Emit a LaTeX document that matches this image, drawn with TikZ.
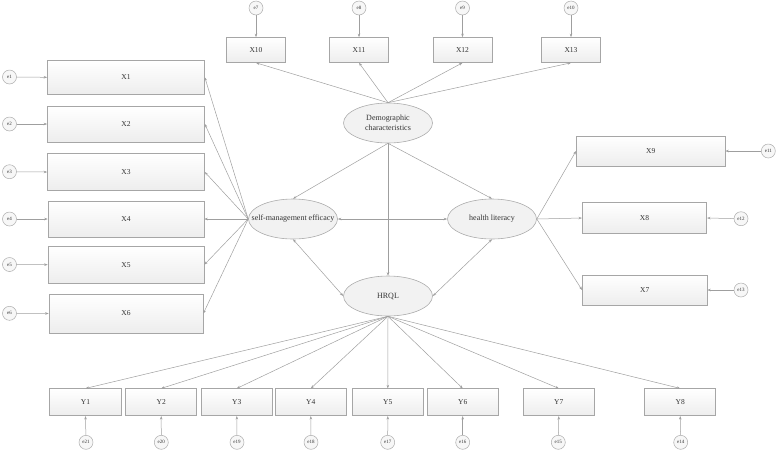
\documentclass[tikz,border=0pt]{standalone}
\usepackage{fontspec}
\setmainfont{Liberation Serif}
\usetikzlibrary{arrows.meta,shapes.geometric}
\begin{document}
\begin{tikzpicture}[x=1pt,y=-1pt,
  line/.style={draw=gray!75,line width=0.5pt,-{Stealth[length=3.5pt,width=2.5pt]}},
  dline/.style={draw=gray!75,line width=0.5pt,{Stealth[length=3.5pt,width=2.5pt]}-{Stealth[length=3.5pt,width=2.5pt]}},
  obs/.style={draw=gray!70,line width=0.6pt,top color=white,bottom color=gray!14,inner sep=0pt,font=\fontsize{7.5}{8}\selectfont,text=black!80},
  lat/.style={ellipse,draw=gray!65,line width=0.6pt,fill=gray!10,inner sep=0pt,minimum width=89pt,minimum height=40pt,font=\fontsize{8}{9}\selectfont,text=black!80},
  err/.style={circle,draw=gray!65,line width=0.5pt,fill=gray!6,inner sep=0pt,minimum size=14pt,font=\fontsize{5}{5}\selectfont,text=black!80}]
\useasboundingbox (0,0) rectangle (778,451);
% latent
\node[lat] (dem) at (388,123) {\makebox[0pt]{\shortstack{Demographic\\characteristics}}};
\node[lat] (sme) at (293,219) {\makebox[0pt]{self-management efficacy}};
\node[lat] (hl) at (492,219) {\makebox[0pt]{health literacy}};
\node[lat] (hrql) at (388,296) {\makebox[0pt]{HRQL}};
% top boxes
\node[obs,minimum width=59pt,minimum height=25pt] (x10) at (256,50) {X10};
\node[obs,minimum width=59pt,minimum height=25pt] (x11) at (359,50) {X11};
\node[obs,minimum width=59pt,minimum height=25pt] (x12) at (462.5,50) {X12};
\node[obs,minimum width=59pt,minimum height=25pt] (x13) at (571,50) {X13};
\node[err] (e7) at (256,8) {e7};
\node[err] (e8) at (359,8) {e8};
\node[err] (e9) at (462.5,8) {e9};
\node[err] (e10) at (571,8) {e10};
% left boxes
\node[obs,minimum width=157pt,minimum height=34pt] (x1) at (126,77.3) {X1};
\node[obs,minimum width=157pt,minimum height=36pt] (x2) at (126,124) {X2};
\node[obs,minimum width=157pt,minimum height=37pt] (x3) at (126,172) {X3};
\node[obs,minimum width=156pt,minimum height=36pt] (x4) at (126,219) {X4};
\node[obs,minimum width=156pt,minimum height=37pt] (x5) at (126,264.7) {X5};
\node[obs,minimum width=154pt,minimum height=39pt] (x6) at (126,313.5) {X6};
\node[err] (e1) at (9.5,77) {e1};
\node[err] (e2) at (9.5,124) {e2};
\node[err] (e3) at (9.5,171.7) {e3};
\node[err] (e4) at (9.5,219) {e4};
\node[err] (e5) at (9.5,264.5) {e5};
\node[err] (e6) at (9.5,313.3) {e6};
% right boxes
\node[obs,minimum width=148.7pt,minimum height=30.3pt] (x9) at (650.7,151) {X9};
\node[obs,minimum width=124.4pt,minimum height=30.6pt] (x8) at (644.5,218) {X8};
\node[obs,minimum width=124.7pt,minimum height=30.3pt] (x7) at (644.7,290) {X7};
\node[err] (e11) at (768.3,151) {e11};
\node[err] (e12) at (741,218.7) {e12};
\node[err] (e13) at (741,290) {e13};
% bottom boxes
\node[obs,minimum width=71.5pt,minimum height=27pt] (y1) at (85.5,402.2) {Y1};
\node[obs,minimum width=71pt,minimum height=27pt] (y2) at (161.2,402.2) {Y2};
\node[obs,minimum width=71pt,minimum height=27pt] (y3) at (236.8,402.2) {Y3};
\node[obs,minimum width=71pt,minimum height=27pt] (y4) at (310.8,402.2) {Y4};
\node[obs,minimum width=71pt,minimum height=27pt] (y5) at (387.8,402.2) {Y5};
\node[obs,minimum width=71.3pt,minimum height=27pt] (y6) at (462.7,402.2) {Y6};
\node[obs,minimum width=71pt,minimum height=27pt] (y7) at (558.8,402.2) {Y7};
\node[obs,minimum width=71pt,minimum height=27pt] (y8) at (680.2,402.2) {Y8};
\node[err] (e21) at (86,442.3) {e21};
\node[err] (e20) at (161.3,442.3) {e20};
\node[err] (e19) at (237,442.3) {e19};
\node[err] (e18) at (311,442.3) {e18};
\node[err] (e17) at (387.7,442.3) {e17};
\node[err] (e16) at (462.7,442.3) {e16};
\node[err] (e15) at (558.3,442.3) {e15};
\node[err] (e14) at (680.7,442.3) {e14};
% error arrows
\foreach \e/\x in {e7/x10,e8/x11,e9/x12,e10/x13}{\draw[line] (\e) -- (\x.north);}
\foreach \e/\x in {e1/x1,e2/x2,e3/x3,e4/x4,e5/x5,e6/x6}{\draw[line] (\e) -- (\x.west);}
\foreach \e/\x in {e11/x9,e12/x8,e13/x7}{\draw[line] (\e) -- (\x.east);}
\foreach \e/\x in {e21/y1,e20/y2,e19/y3,e18/y4,e17/y5,e16/y6,e15/y7,e14/y8}{\draw[line] (\e) -- (\x.south);}
% structural
\foreach \x in {x10,x11,x12,x13}{\draw[line] (dem.north) -- (\x.south);}
\foreach \x in {x1,x2,x3,x4,x5,x6}{\draw[line] (sme.west) -- (\x.east);}
\foreach \x in {x9,x8,x7}{\draw[line] (hl.east) -- (\x.west);}
\foreach \y in {y1,y2,y3,y4,y5,y6,y7,y8}{\draw[line] (hrql.south) -- (\y.north);}
\draw[line] (dem.south) -- (sme.north);
\draw[line] (dem.south) -- (hl.north);
\draw[line] (dem.south) -- (hrql.north);
\draw[dline] (sme.east) -- (hl.west);
\draw[dline] (sme.south) -- (hrql.west);
\draw[dline] (hl.south) -- (hrql.east);
\end{tikzpicture}
\end{document}
